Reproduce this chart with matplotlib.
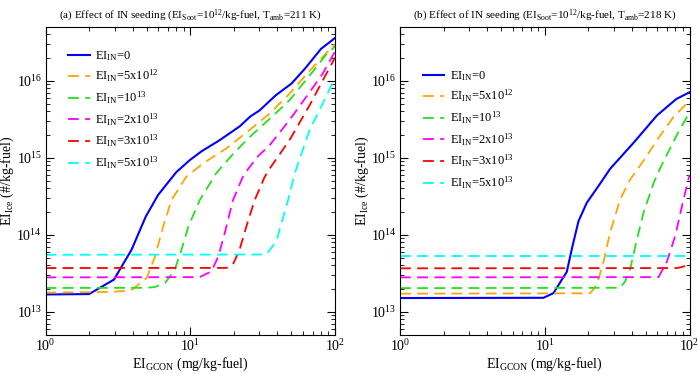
import matplotlib
matplotlib.use("Agg")
import matplotlib.pyplot as plt
import matplotlib.ticker as mticker

plt.rcParams['font.family'] = ['Liberation Serif', 'DejaVu Serif']
plt.rcParams['mathtext.fontset'] = 'custom'
plt.rcParams['mathtext.rm'] = 'Liberation Serif'
plt.rcParams['mathtext.default'] = 'regular'

# ---- data ----
labels = ["EI$_{IN}$=0", "EI$_{IN}$=5x10$^{12}$", "EI$_{IN}$=10$^{13}$",
          "EI$_{IN}$=2x10$^{13}$", "EI$_{IN}$=3x10$^{13}$", "EI$_{IN}$=5x10$^{13}$"]
colors = ["#0000ff", "#ffa500", "#22e022", "#ff00ff", "#ff0000", "#00ffff"]

# panel (a) T_amb = 211 K
a_blue_x = [1, 2, 2.97, 3.93, 4.93, 6.0, 8.0, 9.9, 12, 16, 22, 26, 30, 39, 50, 62, 80, 100]
a_blue_y = [1.68e13, 1.70e13, 2.62e13, 6.4e13, 1.73e14, 3.3e14, 6.5e14, 9.3e14, 1.22e15, 1.7e15,
            2.57e15, 3.45e15, 4.1e15, 6.5e15, 9.2e15, 1.44e16, 2.6e16, 3.6e16]
a_orange_x = [1, 2, 3, 3.9, 5.0, 5.7, 6.5, 7.4, 9.4, 12.3, 17.8, 25.7, 35.3, 48.5, 66.7, 82, 100]
a_orange_y = [1.78e13, 1.8e13, 1.82e13, 1.9e13, 2.75e13, 5.2e13, 1.28e14, 2.8e14, 5.7e14, 8.5e14,
              1.33e15, 2.3e15, 3.75e15, 6.8e15, 1.35e16, 2.03e16, 3.0e16]
a_green_x = [1, 5.0, 5.7, 6.7, 7.8, 8.7, 9.7, 11.6, 15.1, 20, 25.7, 35.3, 48.5, 66.7, 87, 100]
a_green_y = [2.04e13, 2.05e13, 2.1e13, 2.37e13, 3.5e13, 6.4e13, 1.28e14, 2.8e14, 6.3e14, 1.15e15,
             1.86e15, 3.2e15, 5.6e15, 1.17e16, 2.2e16, 2.8e16]
a_magenta_x = [1, 11.6, 14, 15.6, 17.3, 19.7, 23.1, 25.7, 29.4, 35.3, 48.5, 66.7, 82, 100]
a_magenta_y = [2.8e13, 2.82e13, 3.35e13, 5.2e13, 1.05e14, 2.8e14, 5.7e14, 7.6e14, 1.05e15, 1.45e15,
               3.1e15, 7.1e15, 1.23e16, 2.4e16]
a_red_x = [1, 17.8, 19.7, 21.9, 24.4, 27.8, 32.6, 35.3, 48.5, 66.7, 82, 100]
a_red_y = [3.7e13, 3.72e13, 4.1e13, 6.4e13, 1.28e14, 2.8e14, 5.6e14, 7.2e14, 1.7e15, 4.8e15, 1.0e16, 2.0e16]
a_cyan_x = [1, 33.5, 39.3, 42.6, 47.3, 53, 66.7, 82, 100]
a_cyan_y = [5.5e13, 5.55e13, 8.2e13, 1.4e14, 2.8e14, 6.5e14, 2.3e15, 5.0e15, 1.1e16]

# panel (b) T_amb = 218 K
b_blue_x = [1, 9.8, 11.5, 13.1, 14.2, 15.4, 17.1, 19.5, 23.5, 28.3, 41.1, 59.6, 81, 100]
b_blue_y = [1.51e13, 1.52e13, 1.75e13, 2.6e13, 3.3e13, 6.6e13, 1.5e14, 2.6e14, 4.3e14, 7.2e14,
            1.57e15, 3.55e15, 5.8e15, 7.1e15]
b_orange_x = [1, 20.6, 22.9, 25.5, 28.3, 33.2, 38.9, 44.5, 50.8, 59.6, 77.6, 100]
b_orange_y = [1.72e13, 1.74e13, 2.24e13, 4.5e13, 1.08e14, 2.9e14, 5.2e14, 7.4e14, 1.07e15, 1.7e15,
              3.4e15, 5.5e15]
b_green_x = [1, 33.2, 36, 38.9, 43.4, 48.2, 56.5, 62.8, 82, 100]
b_green_y = [2.03e13, 2.05e13, 2.5e13, 3.6e13, 8.9e13, 1.95e14, 4.7e14, 7.4e14, 2.0e15, 3.9e15]
b_magenta_x = [1, 61.1, 69.9, 79.8, 91, 100]
b_magenta_y = [2.8e13, 2.82e13, 4.5e13, 9.8e13, 2.9e14, 6.0e14]
b_red_x = [1, 82, 90, 100]
b_red_y = [3.67e13, 3.7e13, 3.85e13, 4.1e13]
b_cyan_x = [1, 100]
b_cyan_y = [5.3e13, 5.3e13]

panels = [
    ("(a) Effect of IN seeding (EI$_{Soot}$=10$^{12}$/kg-fuel, T$_{amb}$=211 K)",
     [(a_blue_x, a_blue_y), (a_orange_x, a_orange_y), (a_green_x, a_green_y),
      (a_magenta_x, a_magenta_y), (a_red_x, a_red_y), (a_cyan_x, a_cyan_y)], 0.965),
    ("(b) Effect of IN seeding (EI$_{Soot}$=10$^{12}$/kg-fuel, T$_{amb}$=218 K)",
     [(b_blue_x, b_blue_y), (b_orange_x, b_orange_y), (b_green_x, b_green_y),
      (b_magenta_x, b_magenta_y), (b_red_x, b_red_y), (b_cyan_x, b_cyan_y)], 0.90),
]

fig = plt.figure(figsize=(7, 3.75), dpi=100)
lefts = [0.065, 0.5714]

for i, (title, series, leg_y) in enumerate(panels):
    ax = fig.add_axes([lefts[i], 0.1067, 0.4136, 0.8213])
    for k, (xs, ys) in enumerate(series):
        if k == 0:
            ax.plot(xs, ys, color=colors[k], lw=1.5, label=labels[k])
        else:
            ax.plot(xs, ys, color=colors[k], lw=1.3, dashes=(6, 3.5), label=labels[k])
    ax.set_xscale("log")
    ax.set_yscale("log")
    ax.set_xlim(1, 100)
    ax.set_ylim(5e12, 5e16)
    ax.xaxis.set_minor_formatter(mticker.NullFormatter())
    ax.yaxis.set_minor_formatter(mticker.NullFormatter())
    ax.tick_params(which="both", direction="in", top=True, right=True, labelsize=10, pad=2.5)
    ax.tick_params(which="major", length=6)
    ax.tick_params(which="minor", length=3)
    ax.set_xlabel("EI$_{GCON}$ (mg/kg-fuel)", fontsize=10, labelpad=1)
    ax.set_ylabel("EI$_{Ice}$ (#/kg-fuel)", fontsize=10, labelpad=0)
    ax.set_title(title, fontsize=8, pad=6)
    ax.legend(loc="upper left", bbox_to_anchor=(0.04, leg_y), frameon=False,
              fontsize=9, handlelength=1.7, labelspacing=0.42, handletextpad=0.45)

fig.savefig("out.png", dpi=100)
